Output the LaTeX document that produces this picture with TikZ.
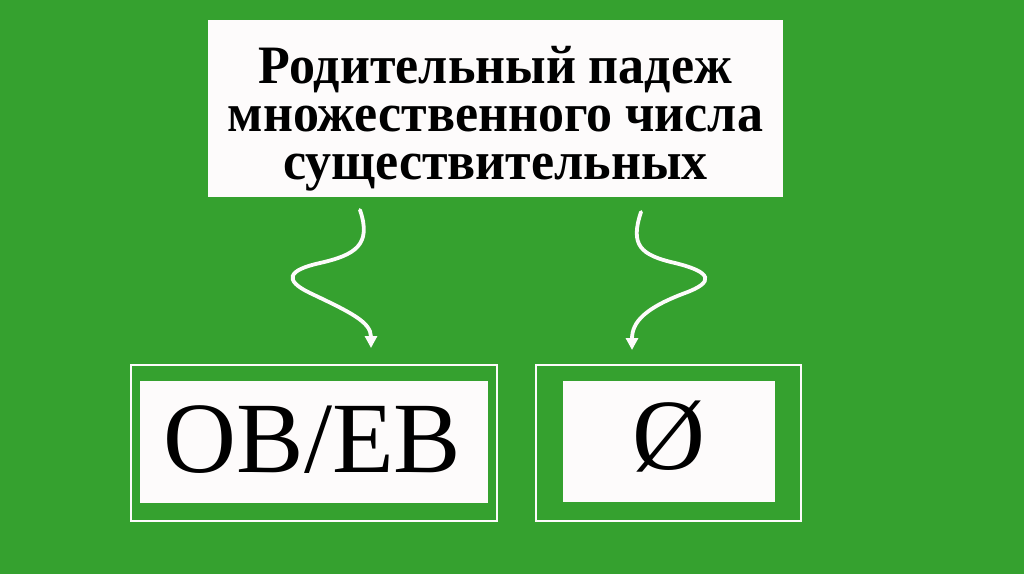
\documentclass[tikz,border=0pt]{standalone}
\usepackage{fontspec}
\setmainfont{Liberation Serif}
\usetikzlibrary{arrows.meta}
\definecolor{bggreen}{RGB}{53,161,47}
\definecolor{paper}{RGB}{253,251,251}
\tikzset{
  panel/.style={fill=paper, draw=none, inner sep=0pt, anchor=center},
  frame/.style={draw=paper, line width=2pt, fill=none, inner sep=0pt},
  wave/.style={draw=paper, line width=3.8pt, line cap=round, -{Triangle[width=12pt,length=12pt]}},
}
\begin{document}
\begin{tikzpicture}[x=1pt,y=-1pt]
\useasboundingbox (0,0) rectangle (1024,574);
\fill[bggreen] (0,0) rectangle (1024,574);
% top box
\node[panel, minimum width=575pt, minimum height=177pt] (top) at (495.5,108.5) {};
\node[inner sep=0pt] (toptext) at (495.5,120)
  {\scalebox{1}[1.04]{\fontsize{52}{46.5}\selectfont\bfseries
   \begin{tabular}{@{}c@{}}Родительный падеж\\множественного числа\\существительных\end{tabular}}};
% bottom frames
\node[frame, minimum width=366pt, minimum height=156pt] (fl) at (313.75,443) {};
\node[panel, minimum width=348pt, minimum height=122pt] (ob) at (314,442) {};
\node[inner sep=0pt, font=\fontsize{101}{101}\selectfont] (obtext) at (312.5,440) {ОВ/ЕВ};
\node[frame, minimum width=265pt, minimum height=156pt] (fr) at (668.5,443) {};
\node[panel, minimum width=212pt, minimum height=121pt] (nul) at (669,441.5) {};
\node[inner sep=0pt, font=\fontsize{101}{101}\selectfont] (nultext) at (669,437) {Ø};
% arrow coordinates
\coordinate (ls) at (360,210);
\coordinate (le) at (371,348);
\coordinate (rs) at (641,212);
\coordinate (re) at (632,350);
\draw[wave] (ls) .. controls (372,245) and (355,255) .. (320,263)
  .. controls (288,270) and (283,280) .. (310,293)
  .. controls (350,312) and (371,322) .. (le);
\draw[wave] (rs) .. controls (630,245) and (640,255) .. (675,263)
  .. controls (712,272) and (715,282) .. (685,293)
  .. controls (645,308) and (632,322) .. (re);
\end{tikzpicture}
\end{document}
